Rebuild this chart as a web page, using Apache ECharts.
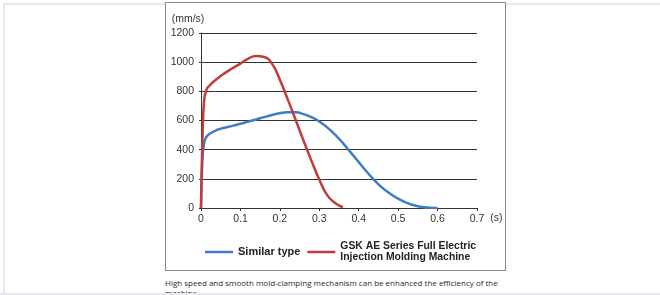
<!DOCTYPE html>
<html>
<head>
<meta charset="utf-8">
<script src="https://cdn.jsdelivr.net/npm/echarts@6/dist/echarts.min.js"></script>
<style>
  html, body { margin: 0; padding: 0; background: #fff; width: 660px; height: 295px; overflow: hidden; }
  #page { position: absolute; left: 3px; top: 3px; width: 700px; height: 288px; border: 2px solid #e8e9ee; overflow: hidden; }
  #frame { position: absolute; left: 165px; top: 2px; width: 339px; height: 267px; border: 1px solid #8a8a8a; background: #fff; }
  #caption { position: absolute; left: 165px; top: 278px; width: 340px; font-family: "Open Sans", sans-serif; font-size: 8px; line-height: 10px; color: #2a2a2a; }
  #cover { position: absolute; left: 0; top: 293px; width: 660px; height: 2px; background: #e8e9ee; }
  #chart { position: absolute; left: 0; top: 0; width: 660px; height: 295px; }
</style>
</head>
<body>
<div id="page"></div>
<div id="frame"></div>
<div id="caption">High speed and smooth mold-clamping mechanism can be enhanced the efficiency of the machine</div>
<div id="cover"></div>
<div id="chart"></div>
<script>
// 图例名称
var seriesNames = ['Similar type', 'GSK AE Series Full Electric\nInjection Molding Machine'];

// 同类机型 (s, mm/s)
var blueTime = [0, 0.003, 0.007, 0.012, 0.02, 0.04, 0.06, 0.08, 0.1, 0.12, 0.14, 0.16, 0.18, 0.2, 0.22, 0.24, 0.26, 0.28, 0.3, 0.32, 0.34, 0.36, 0.38, 0.4, 0.42, 0.44, 0.46, 0.48, 0.5, 0.52, 0.54, 0.56, 0.58, 0.6];
var blueSpeed = [0, 300, 430, 480, 505, 535, 550, 563, 578, 592, 607, 623, 638, 650, 657, 656, 644, 623, 593, 553, 503, 445, 380, 315, 250, 190, 138, 98, 64, 38, 19, 7, 2, 0];

// GSK AE 全电动注塑机
var redTime = [0, 0.004, 0.008, 0.013, 0.02, 0.04, 0.06, 0.08, 0.1, 0.12, 0.14, 0.16, 0.18, 0.2, 0.22, 0.24, 0.26, 0.28, 0.3, 0.32, 0.34, 0.36];
var redSpeed = [0, 500, 740, 805, 835, 885, 925, 958, 990, 1025, 1042, 1035, 990, 880, 745, 605, 462, 325, 195, 88, 35, 5];

// 坐标轴刻度
var xTicks = [0, 0.1, 0.2, 0.3, 0.4, 0.5, 0.6, 0.7];
var yTicks = [0, 200, 400, 600, 800, 1000, 1200];

function pairs(xs, ys) {
    var result = [];
    xs.forEach(function (x, i) { result.push([x, ys[i]]); });
    return result;
}

var myChart = echarts.init(document.getElementById('chart'), null, { renderer: 'canvas' });
var axisFont = { color: '#333', fontSize: 10.5, fontFamily: 'Liberation Sans, Arial, sans-serif' };
var legendFont = { color: '#222', fontSize: 11, fontWeight: 'bold', lineHeight: 11, fontFamily: 'Liberation Sans, Arial, sans-serif' };

myChart.setOption({
    animation: false,
    backgroundColor: 'transparent',
    grid: { left: 201, right: 183, top: 33, bottom: 87 },
    legend: {
        left: 200,
        top: 236,
        icon: 'rect',
        itemWidth: 28,
        itemHeight: 2.5,
        itemGap: 7,
        data: [
            { name: seriesNames[0] },
            { name: seriesNames[1], textStyle: { fontSize: 10.4 } }
        ],
        textStyle: legendFont
    },
    xAxis: {
        type: 'value',
        min: xTicks[0],
        max: xTicks[xTicks.length - 1],
        interval: 0.1,
        name: '(s)',
        nameLocation: 'end',
        nameGap: 11,
        nameTextStyle: Object.assign({}, axisFont, { verticalAlign: 'top', padding: [5, 0, 0, 0] }),
        axisLine: { lineStyle: { color: '#333', width: 1 } },
        axisTick: { show: true, length: 3, lineStyle: { color: '#333' } },
        axisLabel: Object.assign({ margin: 6, formatter: function (v) { return String(+v.toFixed(1)); } }, axisFont),
        splitLine: { show: false }
    },
    yAxis: {
        type: 'value',
        min: yTicks[0],
        max: yTicks[yTicks.length - 1],
        interval: 200,
        name: '(mm/s)',
        nameLocation: 'end',
        nameGap: 8,
        nameTextStyle: Object.assign({}, axisFont, { align: 'center', padding: [0, 26, 0, 0] }),
        axisLine: { show: true, lineStyle: { color: '#333', width: 1 } },
        axisTick: { show: true, length: 2, lineStyle: { color: '#333' } },
        axisLabel: Object.assign({ margin: 7, formatter: function (v) { return String(v); } }, axisFont),
        splitLine: { show: true, lineStyle: { color: '#333', width: 1 } }
    },
    series: [
        {
            name: seriesNames[0],
            type: 'line',
            smooth: 0.5,
            showSymbol: false,
            data: pairs(blueTime, blueSpeed),
            itemStyle: { color: '#3f7cc4' },
            lineStyle: { color: '#3f7cc4', width: 2.5 }
        },
        {
            name: seriesNames[1],
            type: 'line',
            smooth: 0.5,
            showSymbol: false,
            data: pairs(redTime, redSpeed),
            itemStyle: { color: '#c23b3b' },
            lineStyle: { color: '#c23b3b', width: 2.5 }
        }
    ]
});
</script>
</body>
</html>
